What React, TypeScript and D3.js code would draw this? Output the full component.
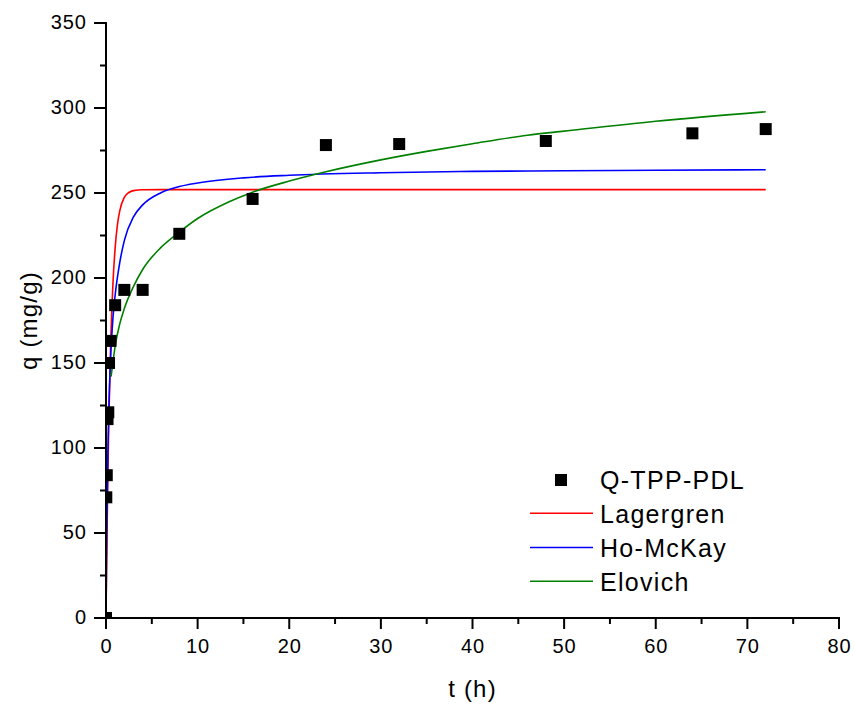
import React from "react";
import * as d3 from "d3";

// Experimental data (Q-TPP-PDL)
const tData = [0, 0.033, 0.083, 0.167, 0.25, 0.33, 0.5, 1, 2, 4, 8, 16, 24, 32, 48, 64, 72];
const qData = [0, 71, 84, 117, 121, 150, 163, 184, 193, 193, 226, 246.5, 278.2, 278.8, 280.6, 285.1, 287.6];

// Lagergren fitted curve
const lagT = [0, 0.05, 0.1, 0.2, 0.3, 0.5, 0.75, 1, 1.25, 1.5, 2, 2.5, 3, 4, 6, 20, 72];
const lagQ = [0, 24, 45.7, 83.1, 113.7, 159.3, 195.8, 217.9, 231.4, 239.5, 247.4, 250.3, 251.4, 251.9, 252, 252, 252];

// Ho-McKay fitted curve
const hoT = [0, 0.05, 0.1, 0.2, 0.3, 0.5, 0.75, 1, 1.5, 2, 3, 4, 6, 8, 10, 15, 20, 30, 40, 50, 60, 72];
const hoQ = [0, 32.8, 58.3, 95.6, 121.4, 153, 176, 190, 209, 222, 236, 243, 250.2, 253.8, 255.9, 258.9, 260.4, 261.9, 262.7, 263.1, 263.4, 263.7];

// Elovich fitted curve
const elT = [0.55, 0.75, 1, 1.5, 2, 3, 4, 6, 8, 10, 13.5, 16, 20, 24, 30, 35, 40, 46, 50, 60, 72];
const elQ = [142, 150, 160, 173, 182, 195, 205, 218, 227, 235, 245, 250.5, 257, 262.5, 269.5, 274.5, 279, 284, 286.4, 292.2, 297.8];

const xTicks = [0, 10, 20, 30, 40, 50, 60, 70, 80];
const yTicks = [0, 50, 100, 150, 200, 250, 300, 350];

const legendLabels = ["Q-TPP-PDL", "Lagergren", "Ho-McKay", "Elovich"];
const colors = { lag: "#ff0000", ho: "#0000ff", el: "#008000" };

export default function App() {
  const W = 854, H = 706;
  const x = d3.scaleLinear().domain([0, 80]).range([106, 839]);
  const y = d3.scaleLinear().domain([0, 350]).range([618, 23]);
  const line = d3
    .line<[number, number]>()
    .x((d) => x(d[0]))
    .y((d) => y(d[1]))
    .curve(d3.curveMonotoneX);
  const mk = (ts: number[], qs: number[]) => ts.map((t, i) => [t, qs[i]] as [number, number]);
  const font = "'Liberation Sans', Arial, Helvetica, sans-serif";
  const minorX = d3.range(5, 80, 10);
  const minorY = d3.range(25, 350, 50);
  const [x0, x1] = x.range();
  const [y0, y1] = y.range();

  return (
    <svg width={W} height={H} style={{ position: "absolute", left: 0, top: 0, background: "#fff" }} fontFamily={font}>
      <defs>
        <clipPath id="plotclip">
          <rect x={x0} y={y1} width={x1 - x0} height={y0 - y1} />
        </clipPath>
      </defs>
      <rect width={W} height={H} fill="#fff" />
      <g clipPath="url(#plotclip)">
        <path d={line(mk(lagT, lagQ)) || ""} fill="none" stroke={colors.lag} strokeWidth={1.6} />
        <path d={line(mk(hoT, hoQ)) || ""} fill="none" stroke={colors.ho} strokeWidth={1.6} />
        <path d={line(mk(elT, elQ)) || ""} fill="none" stroke={colors.el} strokeWidth={1.6} />
        {tData.map((t, i) => (
          <rect key={i} x={x(t) - 6} y={y(qData[i]) - 6} width={12} height={12} fill="#000" />
        ))}
      </g>
      {/* axes */}
      <g stroke="#000" strokeWidth={2}>
        <line x1={x0} x2={x1 + 1} y1={y0} y2={y0} />
        <line x1={x0} x2={x0} y1={y0 + 1} y2={y1 - 1} />
        {xTicks.map((t) => (
          <line key={"xt" + t} x1={x(t)} x2={x(t)} y1={y0} y2={y0 + 11} />
        ))}
        {minorX.map((t) => (
          <line key={"xm" + t} x1={x(t)} x2={x(t)} y1={y0} y2={y0 + 6} />
        ))}
        {yTicks.map((v) => (
          <line key={"yt" + v} x1={x0} x2={x0 - 12} y1={y(v)} y2={y(v)} />
        ))}
        {minorY.map((v) => (
          <line key={"ym" + v} x1={x0} x2={x0 - 6} y1={y(v)} y2={y(v)} />
        ))}
      </g>
      <g fontSize={20} fill="#000" letterSpacing={1}>
        {xTicks.map((t) => (
          <text key={"xl" + t} x={x(t) + 0.5} y={y0 + 35} textAnchor="middle">
            {t}
          </text>
        ))}
        {yTicks.map((v) => (
          <text key={"yl" + v} x={87} y={y(v) + 6} textAnchor="end">
            {v}
          </text>
        ))}
      </g>
      <text x={(x0 + x1) / 2} y={697} textAnchor="middle" fontSize={24} letterSpacing={1.2}>
        t (h)
      </text>
      <text
        transform={`translate(37, ${(y0 + y1) / 2}) rotate(-90)`}
        textAnchor="middle"
        fontSize={24}
        letterSpacing={1.2}
      >
        q (mg/g)
      </text>
      {/* legend */}
      <g fontSize={25} letterSpacing={1.3}>
        <rect x={555} y={474} width={12} height={12} fill="#000" />
        <text x={600} y={488.5}>{legendLabels[0]}</text>
        <line x1={530} x2={593} y1={513.3} y2={513.3} stroke={colors.lag} strokeWidth={1.6} />
        <text x={600} y={522.5}>{legendLabels[1]}</text>
        <line x1={530} x2={593} y1={547.5} y2={547.5} stroke={colors.ho} strokeWidth={1.6} />
        <text x={600} y={556.5}>{legendLabels[2]}</text>
        <line x1={530} x2={593} y1={581.2} y2={581.2} stroke={colors.el} strokeWidth={1.6} />
        <text x={600} y={590.5}>{legendLabels[3]}</text>
      </g>
    </svg>
  );
}
